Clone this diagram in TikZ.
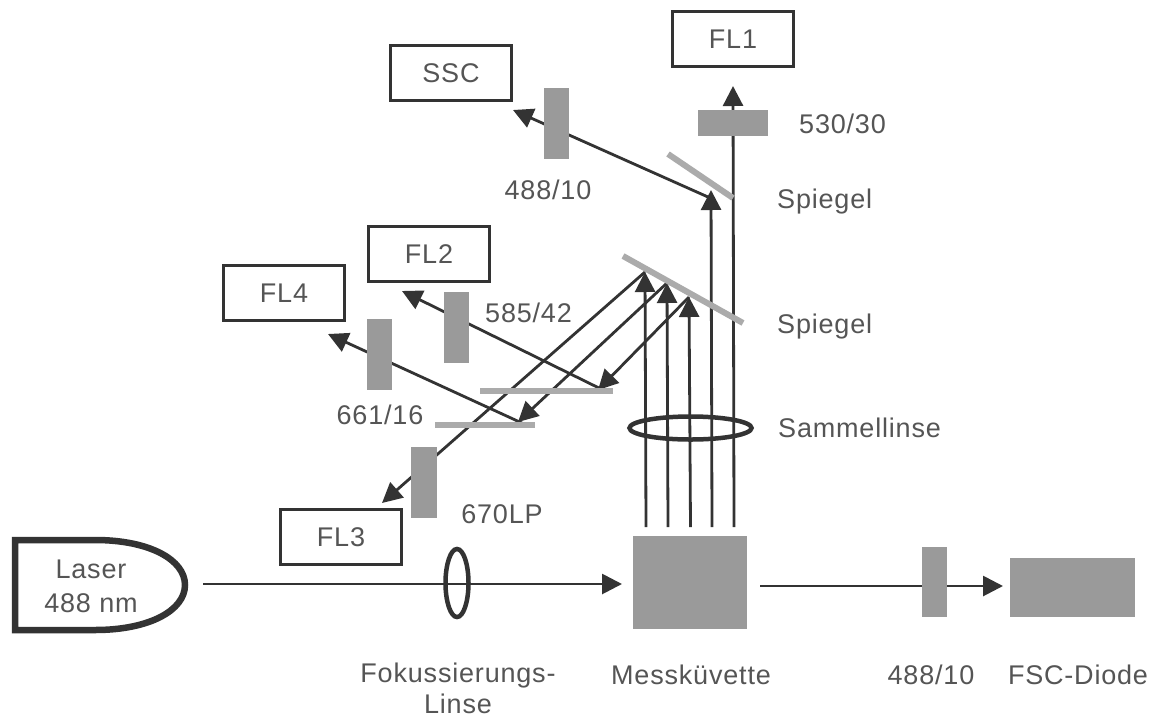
\documentclass[tikz,border=0pt]{standalone}
\usepackage{fontspec}
\setmainfont[LetterSpace=3]{Liberation Sans}
\usetikzlibrary{arrows.meta,backgrounds,shapes.geometric}
\definecolor{ink}{HTML}{333333}
\definecolor{txt}{HTML}{555555}
\definecolor{filt}{HTML}{9A9A9A}
\definecolor{mir}{HTML}{ABABAB}
\tikzset{
  x=1pt,y=-1pt,
  lbl/.style={text=txt,font=\fontsize{27}{31}\selectfont,inner sep=0pt,align=center},
  det/.style={draw=ink,line width=3.5pt,minimum width=121pt,minimum height=55pt,inner sep=0pt,text=txt,font=\fontsize{27}{31}\selectfont},
  filterbox/.style={fill=filt,inner sep=0pt,minimum width=#1},
  ray/.style={draw=ink,line width=2.8pt},
  rayarrow/.style={ray,-{Triangle[length=20pt,width=20pt]}},
  mirror/.style={draw=mir,line width=6pt},
  lens/.style={draw=ink,line width=4.5pt,ellipse,inner sep=0pt}
}
\begin{document}
\begin{tikzpicture}
\useasboundingbox (0,0) rectangle (1155,718);
% detectors
\node[det] (fl1) at (733,39) {FL1};
\node[det] (ssc) at (451,73) {SSC};
\node[det] (fl2) at (429,254) {FL2};
\node[det] (fl4) at (284,293) {FL4};
\node[det] (fl3) at (341,537) {FL3};
% filters
\node[filterbox=70pt,minimum height=26pt] (f530) at (733,123) {};
\node[filterbox=25pt,minimum height=71pt] (f488a) at (556.5,123.5) {};
\node[filterbox=25pt,minimum height=71pt] (f585) at (456.5,327.5) {};
\node[filterbox=25pt,minimum height=71pt] (f661) at (379.5,354) {};
\node[filterbox=26pt,minimum height=71pt] (f670) at (424,482) {};
\node[filterbox=25pt,minimum height=70pt] (f488b) at (934,582) {};
\node[filterbox=114pt,minimum height=93pt] (cuv) at (690,582.5) {};
\node[filterbox=125pt,minimum height=59pt] (fsc) at (1072.5,587.5) {};
% named points
\coordinate (m1a) at (623,256); \coordinate (m1b) at (743,323);
\coordinate (m2a) at (668,154); \coordinate (m2b) at (733,198);
\coordinate (d1a) at (480,391); \coordinate (d1b) at (613,391);
\coordinate (d2a) at (435,425); \coordinate (d2b) at (535,425);
\coordinate (r1) at (646,527); \coordinate (r2) at (668,527); \coordinate (r3) at (690.5,527);
\coordinate (r4) at (712,527); \coordinate (r5) at (734,527);
\coordinate (t1) at (645,272); \coordinate (t2) at (667,283); \coordinate (t3) at (689,297);
\coordinate (t4) at (711,190); \coordinate (t5) at (733,86);
\coordinate (e3) at (382,503); \coordinate (e2) at (518,422); \coordinate (e1) at (598,390);
\coordinate (essc) at (513,110); \coordinate (sscs) at (708,197);
\coordinate (efl2) at (402,291); \coordinate (sfl2) at (601,389);
\coordinate (efl4) at (328,334); \coordinate (sfl4) at (524,424);
\coordinate (ls) at (203,584); \coordinate (le) at (622,584);
\coordinate (fs) at (760,586); \coordinate (fe) at (1003,586);
\begin{pgfonlayer}{background}
\fill[white] (0,0) rectangle (1155,718);
\draw[rayarrow] (r1) -- (t1);
\draw[rayarrow] (r2) -- (t2);
\draw[rayarrow] (r3) -- (t3);
\draw[rayarrow] (r4) -- (t4);
\draw[rayarrow] (r5) -- (t5);
\draw[rayarrow] (t1) -- (e3);
\draw[rayarrow] (t2) -- (e2);
\draw[rayarrow] (t3) -- (e1);
\draw[rayarrow] (sscs) -- (essc);
\draw[rayarrow] (sfl2) -- (efl2);
\draw[rayarrow] (sfl4) -- (efl4);
\draw[rayarrow] (ls) -- (le);
\draw[rayarrow] (fs) -- (fe);
\end{pgfonlayer}
% mirrors
\draw[mirror] (m1a) -- (m1b);
\draw[mirror] (m2a) -- (m2b);
\draw[mirror] (d1a) -- (d1b);
\draw[mirror] (d2a) -- (d2b);
% lenses
\node[lens,minimum width=122pt,minimum height=23pt] (big) at (690.5,428) {};
\node[lens,minimum width=23pt,minimum height=68pt] (small) at (457,583) {};
% laser
\draw[draw=ink,line width=6.5pt,line join=miter] (15,540) -- (95,540) .. controls (150,540) and (185,560) .. (185,585) .. controls (185,610) and (150,630) .. (95,630) -- (15,630) -- cycle;
\node[lbl] (laser) at (91,586) {Laser\\[3pt]488 nm};
% labels
\node[lbl,anchor=west] (a) at (799,124) {530/30};
\node[lbl,anchor=west] (b) at (777,202) {Spiegel};
\node[lbl] (c) at (548,190) {488/10};
\node[lbl,anchor=west] (d) at (777,327) {Spiegel};
\node[lbl,anchor=west] (e) at (778,428) {Sammellinse};
\node[lbl,anchor=west] (g) at (485,313) {585/42};
\node[lbl] (h) at (380,415) {661/16};
\node[lbl] (i) at (502,514) {670LP};
\node[lbl] (j) at (458,688) {Fokussierungs-\\Linse};
\node[lbl] (k) at (691,675) {Messküvette};
\node[lbl] (l) at (931,675) {488/10};
\node[lbl] (n) at (1078,675) {FSC-Diode};
\end{tikzpicture}
\end{document}
